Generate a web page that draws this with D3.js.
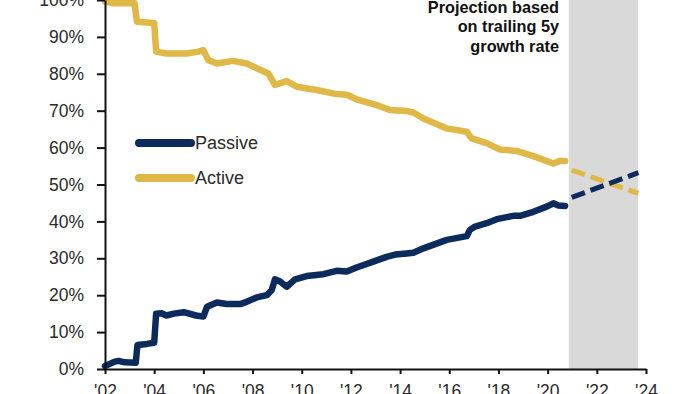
<!DOCTYPE html>
<html>
<head>
<meta charset="utf-8">
<script src="https://cdn.jsdelivr.net/npm/d3@7"></script>
<style>
  html, body { margin: 0; padding: 0; background: #fff; }
  svg { display: block; font-family: "Liberation Sans", Arial, sans-serif; }
</style>
</head>
<body>
<svg width="700" height="394"></svg>
<script>
// passive share of fund assets, [year, %]
let passive = [
    [2002.0, 0.8], [2002.4, 2.0], [2002.55, 2.2], [2002.8, 1.8], [2003.25, 1.7],
    [2003.32, 6.5], [2003.7, 6.8], [2004.0, 7.1], [2004.08, 15.0], [2004.3, 15.1],
    [2004.5, 14.5], [2004.8, 15.0], [2005.2, 15.4], [2005.7, 14.5], [2006.0, 14.2],
    [2006.15, 16.9], [2006.55, 18.0], [2006.95, 17.6], [2007.5, 17.6], [2007.76, 18.2],
    [2008.17, 19.4], [2008.58, 20.0], [2008.78, 21.4], [2008.91, 24.3], [2009.12, 23.7],
    [2009.39, 22.3], [2009.73, 24.3], [2010.2, 25.2], [2010.88, 25.7], [2011.42, 26.6],
    [2011.83, 26.4], [2012.23, 27.5], [2012.91, 29.1], [2013.45, 30.4], [2013.8, 31.0],
    [2014.27, 31.3], [2014.54, 31.5], [2014.95, 32.7], [2015.9, 35.0], [2016.71, 36.0],
    [2016.84, 37.7], [2017.05, 38.6], [2017.52, 39.5], [2017.93, 40.6], [2018.6, 41.5],
    [2018.88, 41.5], [2019.42, 42.6], [2019.96, 44.0], [2020.23, 44.9], [2020.44, 44.3],
    [2020.71, 44.2]
];

// active share of fund assets, [year, %]
let active = [
    [2002.0, 99.6], [2002.34, 99.1], [2002.8, 99.2], [2003.2, 99.1], [2003.3, 94.1],
    [2003.7, 93.9], [2004.0, 93.7], [2004.08, 86.0], [2004.5, 85.5], [2005.32, 85.5],
    [2005.8, 86.0], [2006.0, 86.4], [2006.2, 83.7], [2006.55, 82.8], [2007.2, 83.5],
    [2007.76, 82.8], [2008.17, 81.5], [2008.64, 80.1], [2008.91, 77.0], [2009.39, 78.0],
    [2009.8, 76.5], [2010.6, 75.6], [2011.42, 74.5], [2011.83, 74.3], [2012.23, 73.1],
    [2013.05, 71.5], [2013.59, 70.2], [2014.27, 69.9], [2014.54, 69.5], [2014.95, 67.9],
    [2015.9, 65.2], [2016.71, 64.3], [2016.91, 62.5], [2017.52, 61.2], [2018.06, 59.5],
    [2018.74, 59.1], [2019.42, 57.7], [2020.23, 55.7], [2020.5, 56.4], [2020.71, 56.4]
];

// projections on trailing 5y growth rate
let passiveProj = [[2020.98, 46.5], [2023.69, 53.2]];
let activeProj  = [[2020.98, 53.9], [2023.69, 47.6]];

let projWindow = [2020.86, 2023.68];
let xTicks = d3.range(2002, 2025, 2);
let yTicks = d3.range(0, 101, 10);
let legendItems = ["Passive", "Active"];
let noteLines = ["Projection based", "on trailing 5y", "growth rate"];

let navy = "#0c2b5c";
let gold = "#e0b847";

let svg = d3.select("svg");

let x = d3.scaleLinear().domain([2002, 2024]).range([105, 646]);
let y = d3.scaleLinear().domain([0, 100]).range([369, 0]);

// shaded projection band
svg.append("rect")
    .attr("x", x(projWindow[0]))
    .attr("y", y(100))
    .attr("width", x(projWindow[1]) - x(projWindow[0]))
    .attr("height", y(0) - y(100))
    .style("fill", "#d9d9d9");

let line = d3.line()
    .x(d => x(d[0]))
    .y(d => y(d[1]));

[[active, gold], [passive, navy]].forEach(([d, c]) => {
    svg.append("path")
        .datum(d)
        .attr("d", line)
        .style("fill", "none")
        .style("stroke", c)
        .style("stroke-width", 6.5)
        .style("stroke-linejoin", "round")
        .style("stroke-linecap", "round");
});

[[activeProj, gold], [passiveProj, navy]].forEach(([d, c]) => {
    svg.append("path")
        .datum(d)
        .attr("d", line)
        .style("fill", "none")
        .style("stroke", c)
        .style("stroke-width", 5)
        .style("stroke-dasharray", "14,6");
});

// axes
let xAxis = svg.append("g")
    .attr("transform", `translate(0,${y(0)})`)
    .call(d3.axisBottom(x)
        .tickValues(xTicks)
        .tickSize(5)
        .tickSizeOuter(0)
        .tickPadding(11)
        .tickFormat(d => "'" + String(d).slice(2)));

let yAxis = svg.append("g")
    .attr("transform", `translate(${x(2002)},0)`)
    .call(d3.axisLeft(y)
        .tickValues(yTicks)
        .tickSize(8)
        .tickSizeOuter(0)
        .tickPadding(13)
        .tickFormat(d => d + "%"));

[xAxis, yAxis].forEach(a => {
    a.select(".domain").style("stroke", "#111").style("stroke-width", 2);
    a.selectAll(".tick line").style("stroke", "#111").style("stroke-width", 2);
    a.selectAll(".tick text")
        .style("font-size", "17.5px")
        .style("fill", "#2a2a2a")
        .style("font-family", "'Liberation Sans', Arial, sans-serif");
});

// legend
let legend = svg.append("g").attr("class", "legend");
legendItems.forEach((name, i) => {
    let ly = 143 + i * 35;
    legend.append("line")
        .attr("x1", 139).attr("x2", 191)
        .attr("y1", ly).attr("y2", ly)
        .style("stroke", i == 0 ? navy : gold)
        .style("stroke-width", 8)
        .style("stroke-linecap", "round");
    legend.append("text")
        .attr("x", 195)
        .attr("y", ly)
        .attr("dy", "0.36em")
        .style("font-size", "18px")
        .style("fill", "#2a2a2a")
        .text(name);
});

// projection note
svg.append("text")
    .attr("text-anchor", "end")
    .style("font-size", "16.3px")
    .style("font-weight", "bold")
    .style("fill", "#111")
    .selectAll("tspan")
    .data(noteLines)
    .enter().append("tspan")
    .attr("x", 559)
    .attr("y", (d, i) => 13 + i * 19.3)
    .text(d => d);
</script>
</body>
</html>
